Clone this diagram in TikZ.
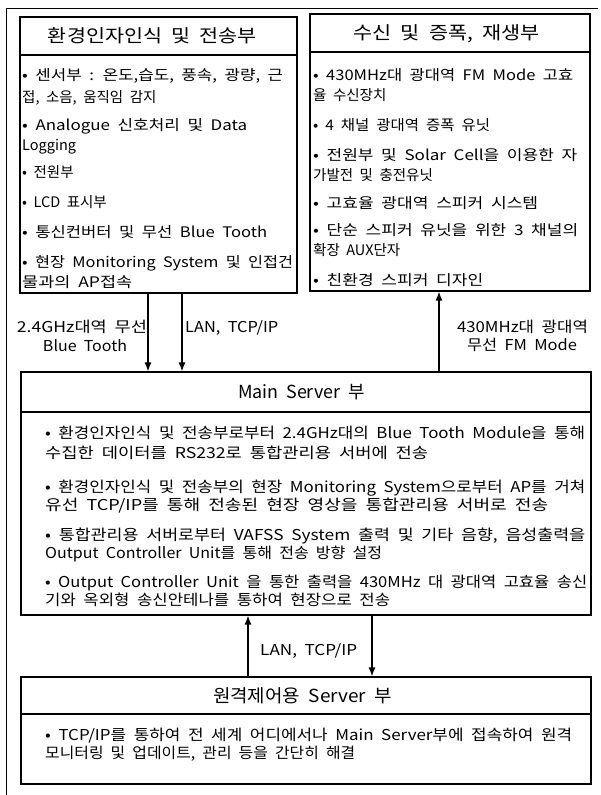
\documentclass[tikz,border=0pt]{standalone}
\usepackage{graphicx}
\usepackage{fontspec}
\setmainfont[WordSpace=2]{Noto Sans CJK KR}
\usetikzlibrary{arrows.meta}
\newcommand\fitw[2]{\resizebox{#1pt}{\height}{#2}}
\tikzset{
  boxframe/.style={draw, line width=1.1pt, inner sep=0pt},
  sepline/.style={line width=1.1pt},
  body/.style={anchor=base west, inner sep=0pt, font=\fontsize{14.5}{18}\selectfont},
  mbody/.style={anchor=base west, inner sep=0pt, font=\fontsize{15}{18}\selectfont},
  ttl/.style={anchor=base, inner sep=0pt, font=\fontsize{18}{21}\selectfont},
  lbl/.style={anchor=base, inner sep=0pt, font=\fontsize{15}{18}\selectfont},
  arr/.style={line width=1.3pt, -{Latex[length=9pt,width=7pt]}},
  frame/.style={line width=0.8pt}
}
\begin{document}
\begin{tikzpicture}[x=1pt,y=-1pt]
\useasboundingbox (0,0) rectangle (600,795);
% outer frame (partial)
\draw[frame] (6,795) -- (6,8) -- (598,8);
% boxes
\node[boxframe, minimum width=277pt, minimum height=276pt] (L) at (158.5,155) {};
\node[boxframe, minimum width=280pt, minimum height=277pt] (R) at (450,152.5) {};
\node[boxframe, minimum width=570pt, minimum height=243pt] (M) at (306,493.5) {};
\node[boxframe, minimum width=570pt, minimum height=107pt] (S) at (306,730.5) {};
\draw[sepline] (L.west |- 0,55) -- (L.east |- 0,55);
\draw[sepline] (R.west |- 0,52) -- (R.east |- 0,52);
\draw[sepline] (M.west |- 0,412) -- (M.east |- 0,412);
\draw[sepline] (S.west |- 0,714) -- (S.east |- 0,714);
% titles
\node[ttl] (Lt) at (152.5,42.5) {\fitw{209}{환경인자인식 및 전송부}};
\node[ttl] (Rt) at (446.5,39.5) {\fitw{187}{수신 및 증폭, 재생부}};
\node[ttl] (Mt) at (301.5,398.5) {\fitw{127}{Main Server 부}};
\node[ttl] (St) at (302.5,702.5) {\fitw{179}{원격제어용 Server 부}};
% left box text
\node[body] (l1) at (22,80.5) {\fitw{261}{• 센서부 : 온도,습도, 풍속, 광량, 근}};
\node[body] (l2) at (22,102.5) {접, 소음, 움직임 감지};
\node[body] (l3) at (22,130.5) {\fitw{225}{• Analogue 신호처리 및 Data}};
\node[body] (l4) at (22,150.5) {Logging};
\node[body] (l5) at (22,177.5) {• 전원부};
\node[body] (l6) at (22,207.5) {• LCD 표시부};
\node[body] (l7) at (22,237.5) {\fitw{245}{• 통신컨버터 및 무선 Blue Tooth}};
\node[body] (l8) at (22,267.5) {\fitw{271}{• 현장 Monitoring System 및 인접건}};
\node[body] (l9) at (22,287.5) {\fitw{110}{물과의 AP접속}};
% right box text
\node[body] (r1) at (313,80.5) {\fitw{260}{• 430MHz대 광대역 FM Mode 고효}};
\node[body] (r2) at (313,100.5) {율 수신장치};
\node[body] (r3) at (313,130.5) {\fitw{177}{• 4 채널 광대역 증폭 유닛}};
\node[body] (r4) at (313,160.5) {\fitw{264}{• 전원부 및 Solar Cell을 이용한 자}};
\node[body] (r5) at (313,180.5) {가발전 및 충전유닛};
\node[body] (r6) at (313,208.5) {\fitw{225}{• 고효율 광대역 스피커 시스템}};
\node[body] (r7) at (313,235.5) {\fitw{265}{• 단순 스피커 유닛을 위한 3 채널의}};
\node[body] (r8) at (313,255.5) {확장 AUX단자};
\node[body] (r9) at (313,285.5) {\fitw{170}{• 친환경 스피커 디자인}};
% main box text
\node[mbody] (m1) at (45,438.5) {\fitw{540}{• 환경인자인식 및 전송부로부터 2.4GHz대의 Blue Tooth Module을 통해}};
\node[mbody] (m2) at (45,458.5) {\fitw{383}{수집한 데이터를 RS232로 통합관리용 서버에 전송}};
\node[mbody] (m3) at (45,492.5) {\fitw{540}{• 환경인자인식 및 전송부의 현장 Monitoring System으로부터 AP를 거쳐}};
\node[mbody] (m4) at (45,510.5) {\fitw{503}{유선 TCP/IP를 통해 전송된 현장 영상을 통합관리용 서버로 전송}};
\node[mbody] (m5) at (45,540.5) {\fitw{540}{• 통합관리용 서버로부터 VAFSS System 출력 및 기타 음향, 음성출력을}};
\node[mbody] (m6) at (45,558.5) {\fitw{337}{Output Controller Unit를 통해 전송 방향 설정}};
\node[mbody] (m7) at (45,587.5) {\fitw{542}{• Output Controller Unit 을 통한 출력을 430MHz 대 광대역 고효율 송신}};
\node[mbody] (m8) at (45,605.5) {\fitw{345}{기와 옥외형 송신안테나를 통하여 현장으로 전송}};
% remote box text
\node[mbody] (s1) at (45,740.5) {\fitw{527}{• TCP/IP를 통하여 전 세계 어디에서나 Main Server부에 접속하여 원격}};
\node[mbody] (s2) at (45,758.5) {\fitw{310}{모니터링 및 업데이트, 관리 등을 간단히 해결}};
% connectors
\draw[arr] (L.south -| 148,0) -- (M.north -| 148,0);
\draw[arr] (L.south -| 182,0) -- (M.north -| 182,0);
\draw[arr] (M.north -| 439,0) -- (R.south -| 439,0);
\draw[arr] (S.north -| 248,0) -- (M.south -| 248,0);
\draw[arr] (M.south -| 372,0) -- (S.north -| 372,0);
% connector labels
\node[lbl] (a1) at (82,332.5) {\fitw{130}{2.4GHz대역 무선}};
\node[lbl] (a2) at (85,351.5) {\fitw{84}{Blue Tooth}};
\node[lbl, anchor=base west] (a3) at (185,332.5) {\fitw{93}{LAN, TCP/IP}};
\node[lbl] (b1) at (522.5,332.5) {\fitw{131}{430MHz대 광대역}};
\node[lbl] (b2) at (522,350.5) {\fitw{110}{무선 FM Mode}};
\node[lbl, anchor=base west] (c1) at (260,655.5) {\fitw{97}{LAN, TCP/IP}};
\end{tikzpicture}
\end{document}
